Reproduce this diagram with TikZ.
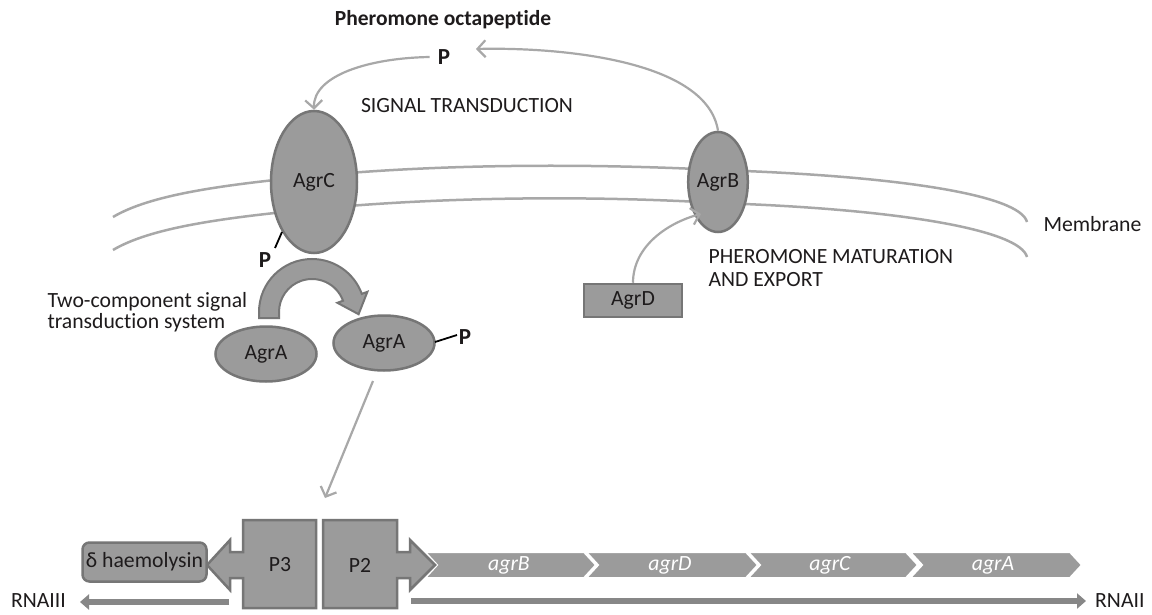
\documentclass[tikz,border=0pt]{standalone}
\usepackage{fontspec}
\setmainfont{Carlito}[Ligatures=NoCommon]
\usetikzlibrary{shapes.geometric,arrows.meta,calc}
\definecolor{shapefill}{HTML}{9B9B9B}
\definecolor{shapeline}{HTML}{767676}
\definecolor{connline}{HTML}{A8A8A8}
\definecolor{rnacol}{HTML}{878787}
\definecolor{txt}{HTML}{1E1B1C}
\begin{document}
\begin{tikzpicture}[x=1pt,y=1pt,
  every node/.style={font=\fontsize{21.7}{23}\selectfont, text=txt},
  prot/.style={ellipse, draw=shapeline, fill=shapefill, line width=2.5pt, inner sep=0pt},
  boxshape/.style={draw=shapeline, fill=shapefill, line width=2.5pt, line join=miter},
  conn/.style={draw=connline, line width=2.2pt, -{Straight Barb[length=8pt,width=17pt]}},
  memb/.style={draw=connline, line width=2.5pt},
  gene/.style={fill=shapefill, draw=white, line width=2pt},
  genelbl/.style={text=white, font=\fontsize{21.7}{23}\selectfont\itshape},
  plbl/.style={font=\fontsize{23}{25}\selectfont\bfseries, inner sep=0pt},
  rna/.style={draw=rnacol, line width=6pt, -{Triangle[length=9pt,width=15pt]}},
  plink/.style={draw=black, line width=1.8pt}
]
\fill[white] (0,0) rectangle (1152,-615);
\useasboundingbox (0,0) rectangle (1152,-615);

% membrane
\draw[memb] (113,-217) .. controls (150,-195) and (220,-185) .. (314,-176)
  .. controls (450,-163) and (600,-164) .. (718,-170)
  .. controls (900,-176) and (1020,-195) .. (1027,-222);
\draw[memb] (113,-250) .. controls (150,-228) and (220,-218) .. (314,-209)
  .. controls (450,-196) and (600,-196) .. (718,-203)
  .. controls (900,-209) and (1020,-230) .. (1027,-257);

% proteins
\node[prot, minimum width=86pt, minimum height=142pt] (agrC) at (314,-182) {AgrC};
\node[prot, minimum width=54pt, minimum height=100pt] (agrB) at (718,-182) {AgrB};
\node[prot, minimum width=101pt, minimum height=55pt] (agrA1) at (266,-354) {AgrA};
\node[prot, minimum width=101pt, minimum height=55pt] (agrA2) at (384,-343) {AgrA};
\node[boxshape, minimum width=98pt, minimum height=33pt, inner sep=0pt] (agrD) at (633,-300.5) {AgrD};

% texts
\node[font=\fontsize{21.5}{23}\selectfont\bfseries] (phero) at (443,-20) {Pheromone octapeptide};
\node[plbl] (P1) at (444,-57) {P};
\coordinate (ptip) at (476,-49);
\node (sig) at (467,-106) {SIGNAL TRANSDUCTION};
\node[anchor=west] (memlbl) at (1040,-224) {Membrane};
\node[anchor=west, align=left, font=\fontsize{21.7}{21.5}\selectfont] (twocomp) at (44,-312) {Two-component signal\\transduction system};
\node[anchor=west, align=left, font=\fontsize{21.7}{23}\selectfont] (matur) at (705,-268) {PHEROMONE MATURATION\\AND EXPORT};

% phosphate labels
\node[plbl] (Pc) at (265,-260) {P};
\coordinate (pcA) at (282,-232);
\coordinate (pcB) at (275,-248);
\draw[plink] (pcA) -- (pcB);
\node[plbl] (Pa) at (465,-337) {P};
\coordinate (paA) at (435,-342);
\coordinate (paB) at (457,-335);
\draw[plink] (paA) -- (paB);

% connectors
\draw[conn] (P1.west) ++(-8,0) coordinate (p1s) .. controls (370,-58) and (313,-75) .. (agrC.north);
\draw[conn] (agrB.north) .. controls (707,-60) and (560,-47) .. (ptip);
\coordinate (bEnd) at (701,-214);
\draw[conn] (agrD.north) .. controls (633,-245) and (670,-222) .. (bEnd);
\coordinate (aStart) at (373,-381);
\coordinate (pTip) at (325,-498);
\draw[conn] (aStart) -- (pTip);

% curved block arrow (phosphotransfer)
\coordinate (C) at (312,-312);
\filldraw[fill=shapefill, draw=shapeline, line width=2pt, line join=miter]
  (259,-318) -- (259,-312) arc[start angle=180, end angle=20, radius=53]
  -- (367.4,-291.8) -- (358.6,-314.2) -- (337.4,-302.8)
  -- ($(C)+(20:33)$) arc[start angle=20, end angle=180, radius=33]
  -- (279,-318) -- cycle;

% gene chevrons
\foreach \L/\R/\g/\cx in {425/584/agrB/509, 586/746/agrD/670, 748/906/agrC/830, 910/1070/agrA/993}{
  \filldraw[gene] (\L,-552) -- (\R,-552) -- (\R+12,-565) -- (\R,-578) -- (\L,-578) -- (\L+12,-565) -- cycle;
  \node[genelbl] at (\cx,-565) {\g};
}

% RNA arrows
\coordinate (r3s) at (229,-602);
\coordinate (r3e) at (80,-602);
\draw[rna] (r3s) -- (r3e);
\coordinate (r2s) at (411,-601);
\coordinate (r2e) at (1086,-601);
\draw[rna] (r2s) -- (r2e);
\node[anchor=east, inner sep=0pt] (rna3) at (66,-601) {RNAIII};
\node[anchor=west, inner sep=0pt] (rna2) at (1095,-601) {RNAII};

% promoters
\filldraw[boxshape] (316,-520) -- (243,-520) -- (243,-552) -- (230,-552) -- (230,-540) -- (207,-565) -- (230,-590) -- (230,-578) -- (243,-578) -- (243,-608) -- (316,-608) -- cycle;
\node (p3) at (280,-565) {P3};
\filldraw[boxshape] (323,-520) -- (397,-520) -- (397,-552) -- (410,-552) -- (410,-540) -- (435,-565) -- (410,-590) -- (410,-578) -- (397,-578) -- (397,-608) -- (323,-608) -- cycle;
\node (p2) at (360,-565) {P2};
\node[boxshape, rounded corners=7pt, minimum width=124pt, minimum height=39pt, inner sep=0pt] (hly) at (144.5,-562) {δ haemolysin};
\end{tikzpicture}
\end{document}
